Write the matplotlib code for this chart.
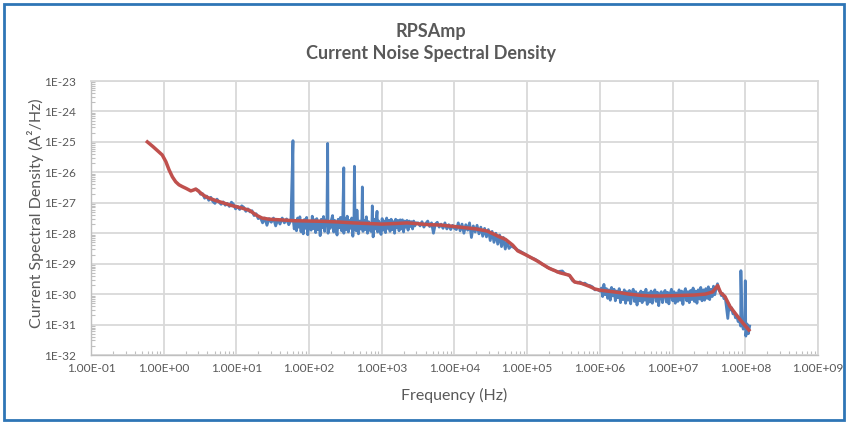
import numpy as np
import matplotlib
matplotlib.use("Agg")
import matplotlib.pyplot as plt
from matplotlib.patches import Rectangle
from matplotlib.ticker import FixedLocator, FuncFormatter, NullFormatter

plt.rcParams['font.family'] = ['Lato', 'DejaVu Sans']

# smoothed curve (red): log10(freq / Hz), log10(density / A^2/Hz)
red_logf = [-0.225, -0.15, -0.08, -0.02, 0.03, 0.074, 0.12, 0.165, 0.21, 0.257,
            0.31, 0.373, 0.41, 0.44, 0.48, 0.53, 0.58, 0.65, 0.72, 0.80,
            0.88, 0.95, 1.02, 1.085, 1.18, 1.27, 1.35, 1.45, 1.60, 1.80,
            2.00, 2.20, 2.40, 2.60, 2.80, 3.00, 3.20, 3.35, 3.50, 3.65,
            3.80, 4.00, 4.15, 4.30, 4.45, 4.55, 4.62, 4.70, 4.80, 4.87,
            4.99, 5.13, 5.30, 5.45, 5.58, 5.65, 5.75, 5.86, 5.93, 6.00,
            6.10, 6.27, 6.40, 6.55, 6.70, 6.85, 7.00, 7.15, 7.30, 7.45,
            7.55, 7.62, 7.66, 7.72, 7.79, 7.88, 7.97, 8.05]
red_logs = [-25.00, -25.15, -25.30, -25.43, -25.65, -25.92, -26.15, -26.31, -26.41, -26.47,
            -26.53, -26.61, -26.58, -26.55, -26.62, -26.72, -26.80, -26.87, -26.93, -26.99,
            -27.05, -27.10, -27.14, -27.18, -27.25, -27.40, -27.50, -27.54, -27.56, -27.59,
            -27.60, -27.61, -27.63, -27.66, -27.68, -27.70, -27.68, -27.66, -27.69, -27.72,
            -27.73, -27.78, -27.82, -27.86, -27.93, -28.04, -28.12, -28.20, -28.39, -28.58,
            -28.72, -28.90, -29.15, -29.30, -29.38, -29.60, -29.65, -29.75, -29.83, -29.87,
            -29.90, -29.95, -30.00, -30.04, -30.06, -30.06, -30.05, -30.04, -30.03, -30.00,
            -29.93, -29.72, -29.95, -30.08, -30.41, -30.69, -30.96, -31.18]

# measured curve (blue), sampled evenly in log10(freq) over each span
blue_spans = [(0.45, 1.30), (1.33, 1.75), (1.78, 3.47), (3.50, 4.00),
              (4.026, 4.75), (4.78, 4.98), (5.00, 6.00), (6.02, 7.58), (7.60, 8.06)]
blue_a = [-26.56, -26.60, -26.72, -26.70, -26.85, -26.78, -26.92, -26.82, -26.96, -27.02,
          -26.88, -26.98, -27.05, -26.97, -27.08, -27.02, -27.12, -26.98, -27.05, -27.20,
          -27.12, -27.22, -27.10, -27.15, -27.28, -27.20, -27.30, -27.26, -27.42, -27.36,
          -27.52]
blue_b = [-27.48, -27.66, -27.50, -27.74, -27.52, -27.64, -27.50, -27.76, -27.55, -27.70,
          -27.50, -27.66, -27.53, -27.72, -27.58]
blue_c = [-27.52, -27.86, -27.58, -27.92, -27.50, -27.80, -27.46, -27.95, -27.60, -28.02,
          -27.55, -27.84, -27.48, -28.05, -27.62, -27.78, -27.90, -27.44, -27.85, -27.56,
          -27.98, -27.52, -27.88, -27.60, -28.08, -27.54, -27.82, -27.45, -27.94, -27.62,
          -27.50, -28.00, -27.66, -27.84, -27.56, -27.42, -27.96, -27.58, -27.86, -28.06,
          -27.54, -27.82, -27.48, -27.92, -27.60, -28.00, -27.52, -27.88, -27.44, -27.96,
          -27.58, -27.84, -27.50, -28.10, -27.62, -27.80, -27.92, -27.48, -28.02, -27.60,
          -27.86, -27.52, -27.94, -27.58, -27.88, -27.46, -28.00, -27.62, -27.82, -27.94,
          -27.56, -28.12, -27.54, -27.86, -27.48, -27.96, -27.60, -27.84, -28.04, -27.52,
          -27.90, -27.60, -27.98, -27.50, -27.84, -27.58, -27.94, -27.54, -27.88, -27.62,
          -28.00, -27.54, -27.82, -27.58, -27.92, -27.56, -27.86, -27.56, -27.96, -27.60,
          -27.80, -27.58, -27.90, -27.60, -27.78, -27.62, -27.86, -27.60, -27.76, -27.66]
blue_d = [-27.66, -27.76, -27.62, -27.80, -27.68, -27.60, -27.78, -27.66, -28.00, -27.70,
          -27.64, -27.80, -27.70, -27.84, -27.66, -27.86, -27.72, -27.88, -27.74, -27.84]
blue_e = [-27.88, -27.66, -27.92, -27.70, -28.00, -27.72, -27.90, -27.66, -28.14, -27.76,
          -27.96, -27.74, -28.02, -27.80, -28.10, -27.84, -28.12, -27.88, -28.24, -27.94,
          -28.30, -28.00, -28.36, -28.06, -28.44, -28.14, -28.52, -28.26, -28.50]
blue_f = [-28.42, -28.46, -28.50, -28.55, -28.58, -28.62, -28.66, -28.70]
blue_g = [-28.74, -28.78, -28.82, -28.85, -28.90, -28.95, -29.02, -29.06, -29.12, -29.15,
          -29.20, -29.22, -29.28, -29.25, -29.24, -29.33, -29.36, -29.40, -29.55, -29.60,
          -29.63, -29.60, -29.66, -29.64, -29.70, -29.72, -29.76, -29.86, -29.85, -29.90]
blue_h = [-29.80, -30.08, -29.68, -30.02, -29.82, -30.14, -29.86, -30.20, -29.78, -30.06,
          -29.84, -30.22, -29.90, -30.12, -29.82, -30.28, -29.94, -30.18, -29.86, -30.30,
          -29.92, -30.20, -29.88, -30.32, -29.96, -29.84, -30.24, -29.92, -30.36, -29.98,
          -30.22, -29.90, -30.28, -29.94, -30.20, -29.84, -30.34, -29.96, -30.26, -29.90,
          -30.30, -29.98, -29.86, -30.24, -29.94, -30.38, -30.00, -29.92, -30.28, -29.96,
          -29.88, -30.26, -29.94, -30.32, -29.98, -29.84, -30.22, -29.92, -30.30, -29.96,
          -30.24, -29.86, -30.20, -29.90, -30.34, -29.94, -29.82, -30.22, -29.92, -30.28,
          -29.88, -30.18, -29.80, -30.24, -29.90, -30.30, -29.86, -30.16, -29.78, -30.22,
          -29.86, -30.20, -29.82, -30.14, -29.76, -30.18, -29.84, -30.08, -29.74, -30.02]
blue_i = [-29.80, -29.66, -29.85, -29.92, -30.05, -29.98, -30.15, -30.10, -30.45, -30.80,
          -30.35, -30.52, -30.45, -30.65, -30.60, -30.78, -30.72, -30.90, -30.85, -31.05,
          -30.95, -31.15, -31.05, -31.38, -30.98, -31.30, -31.05]
blue_segments = [blue_a, blue_b, blue_c, blue_d, blue_e, blue_f, blue_g, blue_h, blue_i]

# narrow spurs (Hz, log10 peak density)
spur_f = [60, 180, 300, 420, 455, 540, 740, 860, 8.7e7, 1.0e8]
spur_logs = [-24.96, -25.05, -25.85, -25.80, -27.24, -26.48, -27.10, -27.28, -29.23, -29.56]

bx = np.concatenate([np.linspace(a, b, len(v)) for (a, b), v in zip(blue_spans, blue_segments)]
                    + [np.log10(spur_f)])
by = np.concatenate(blue_segments + [spur_logs])
order = np.argsort(bx)
blue_f_hz = 10 ** bx[order]
blue_s = 10 ** by[order]

fig = plt.figure(figsize=(8.48, 4.23), dpi=100)
ax = fig.add_axes([91 / 848, 1 - 355 / 423, 727 / 848, 274 / 423])

ax.plot(blue_f_hz, blue_s, color='#4F81BD', lw=2.0, solid_joinstyle='round')
ax.plot(10 ** np.array(red_logf), 10 ** np.array(red_logs), color='#C0504D', lw=2.5,
        solid_joinstyle='round')

ax.set_xscale('log')
ax.set_yscale('log')
ax.set_xlim(1e-1, 1e9)
ax.set_ylim(1e-32, 1e-23)

ax.xaxis.set_major_locator(FixedLocator([10.0 ** k for k in range(-1, 10)]))
ax.yaxis.set_major_locator(FixedLocator([10.0 ** k for k in range(-32, -22)]))
ax.xaxis.set_minor_locator(FixedLocator([m * 10.0 ** k for k in range(-1, 9) for m in range(2, 10)]))
ax.yaxis.set_minor_locator(FixedLocator([m * 10.0 ** k for k in range(-32, -23) for m in range(2, 10)]))
ax.xaxis.set_minor_formatter(NullFormatter())
ax.yaxis.set_minor_formatter(NullFormatter())
ax.xaxis.set_major_formatter(FuncFormatter(lambda v, p: f"{v:.2E}"))
ax.yaxis.set_major_formatter(FuncFormatter(lambda v, p: f"1E{int(round(np.log10(v)))}"))

ax.tick_params(which='major', length=0, labelsize=8.6, labelcolor='#595959')
ax.tick_params(axis='y', which='major', pad=11)
ax.tick_params(axis='x', which='major', pad=6)
ax.tick_params(which='minor', direction='in', length=3, width=0.8, color='#BFBFBF')

ax.grid(True, which='major', color='#D9D9D9', lw=1.3)
ax.set_axisbelow(True)
for side in ['top', 'right']:
    ax.spines[side].set_color('#D9D9D9')
    ax.spines[side].set_linewidth(1.3)
for side in ['left', 'bottom']:
    ax.spines[side].set_color('#BFBFBF')
    ax.spines[side].set_linewidth(1.0)

fig.text(35.5 / 848, 1 - 213.5 / 423, 'Current Spectral Density (A²/Hz)', rotation=90,
         ha='center', va='center', fontsize=11.5, color='#595959')
fig.text(454 / 848, 1 - 395 / 423, 'Frequency (Hz)', ha='center', va='center',
         fontsize=11.5, color='#595959')
fig.text(431 / 848, 1 - 36.5 / 423, 'RPSAmp', ha='center', va='baseline',
         fontsize=13, fontweight='bold', color='#595959')
fig.text(431 / 848, 1 - 58.5 / 423, 'Current Noise Spectral Density', ha='center', va='baseline',
         fontsize=13, fontweight='bold', color='#595959')

fig.patches.append(Rectangle((4 / 848, 3 / 423), 840 / 848, 416 / 423, transform=fig.transFigure,
                             fill=False, edgecolor='#2E75B6', lw=2))

fig.savefig('out.png', dpi=100)
